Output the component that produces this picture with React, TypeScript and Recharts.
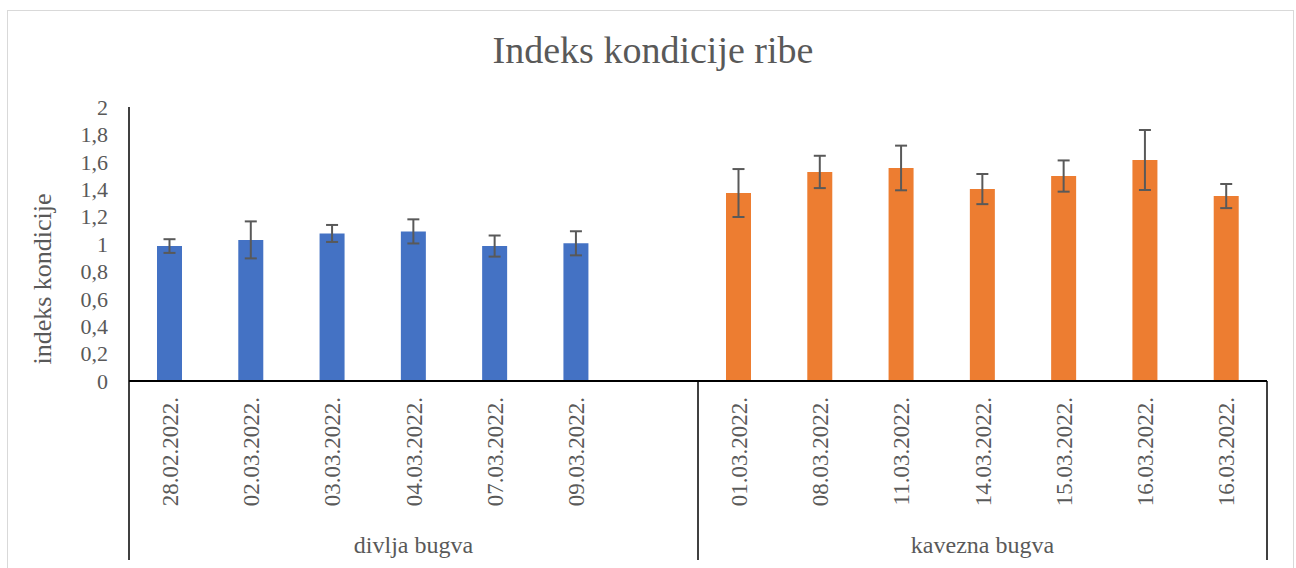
import { BarChart, Bar, XAxis, YAxis, ErrorBar, Cell } from 'recharts';

// divlja bugva (wild)
const wildDates = ['28.02.2022.', '02.03.2022.', '03.03.2022.', '04.03.2022.', '07.03.2022.', '09.03.2022.'];
const wildValues = [0.985, 1.03, 1.077, 1.092, 0.985, 1.005];
const wildErrors = [0.05, 0.135, 0.062, 0.088, 0.077, 0.088];

// kavezna bugva (cage)
const cageDates = ['01.03.2022.', '08.03.2022.', '11.03.2022.', '14.03.2022.', '15.03.2022.', '16.03.2022.', '16.03.2022.'];
const cageValues = [1.372, 1.526, 1.555, 1.401, 1.496, 1.613, 1.35];
const cageErrors = [0.175, 0.118, 0.163, 0.11, 0.114, 0.219, 0.088];

const groupNames = ['divlja bugva', 'kavezna bugva'];
const groupColors = ['#4472C4', '#ED7D31'];
const yTicks = [0, 0.2, 0.4, 0.6, 0.8, 1, 1.2, 1.4, 1.6, 1.8, 2];

const W = 1296;
const H = 568;
const MARGIN = { top: 107, right: 29, bottom: 0, left: 0 };
const Y_AXIS_W = 129;
const X_AXIS_H = 187;
const PLOT_W = W - MARGIN.left - MARGIN.right - Y_AXIS_W;
const TEXT = '#595959';
const FONT = 'Liberation Serif';

interface Row {
  key: string;
  date: string;
  value: number | null;
  err: number | null;
  group: number;
  groupEnd?: boolean;
}

// one empty slot closes the first group, as in the original
const rows: Row[] = [
  ...wildDates.map((d, i) => ({ key: `w${i}`, date: d, value: wildValues[i], err: wildErrors[i], group: 0 })),
  { key: 'gap', date: '', value: null, err: null, group: 0, groupEnd: true },
  ...cageDates.map((d, i) => ({
    key: `c${i}`,
    date: d,
    value: cageValues[i],
    err: cageErrors[i],
    group: 1,
    groupEnd: i === cageDates.length - 1,
  })),
];

// slot sitting in the middle of each group
const groupMid = groupNames.map((_, g) => {
  const idx = rows.map((r, i) => (r.group === g ? i : -1)).filter((i) => i >= 0);
  return (idx[0] + idx[idx.length - 1]) / 2;
});

function DateTick(props: any) {
  const { x, y, index } = props;
  const row = rows[index];
  if (!row) return null;
  const bw = PLOT_W / rows.length;
  const g = groupMid.findIndex((m) => Math.floor(m) === index);
  const gx = g >= 0 ? x + (groupMid[g] - index) * bw : 0;
  return (
    <g>
      {row.date && (
        <text
          transform={`translate(${x + 8},${y + 16}) rotate(-90)`}
          textAnchor="end"
          fontSize={23}
          fill={TEXT}
          style={{ fontFamily: FONT }}
        >
          {row.date}
        </text>
      )}
      {index === 0 && <line x1={x - bw / 2} x2={x - bw / 2} y1={y} y2={y + 179} stroke="#000" strokeWidth={1.5} />}
      {row.groupEnd && <line x1={x + bw / 2} x2={x + bw / 2} y1={y} y2={y + 179} stroke="#000" strokeWidth={1.5} />}
      {g >= 0 && (
        <text x={gx} y={y + 172} textAnchor="middle" fontSize={24} fill={TEXT} style={{ fontFamily: FONT }}>
          {groupNames[g]}
        </text>
      )}
    </g>
  );
}

function YLabel(props: any) {
  const vb = props.viewBox || { x: 0, y: MARGIN.top, width: Y_AXIS_W, height: 274 };
  const cx = vb.x + 51;
  const cy = vb.y + vb.height / 2 + 35;
  return (
    <text
      transform={`translate(${cx},${cy}) rotate(-90)`}
      textAnchor="middle"
      fontSize={26}
      fill={TEXT}
      style={{ fontFamily: FONT }}
    >
      indeks kondicije
    </text>
  );
}

export default function App() {
  return (
    <div style={{ position: 'absolute', left: 0, top: 0, width: W, height: H, overflow: 'hidden', background: '#fff' }}>
      <div
        style={{
          position: 'absolute',
          left: 7,
          top: 10,
          width: 1287,
          height: 600,
          border: '1px solid #d9d9d9',
          boxSizing: 'border-box',
        }}
      />
      <div
        style={{
          position: 'absolute',
          left: 10,
          top: 31,
          width: 1286,
          textAlign: 'center',
          fontFamily: FONT,
          fontSize: 38,
          lineHeight: 1,
          color: TEXT,
        }}
      >
        Indeks kondicije ribe
      </div>
      <div style={{ position: 'absolute', left: 0, top: 0 }}>
        <BarChart width={W} height={H} data={rows} margin={MARGIN}>
          <XAxis
            dataKey="key"
            interval={0}
            height={X_AXIS_H}
            tickLine={false}
            tickSize={0}
            tickMargin={0}
            tick={<DateTick />}
            axisLine={{ stroke: '#000', strokeWidth: 2 }}
          />
          <YAxis
            width={Y_AXIS_W}
            domain={[0, 2]}
            ticks={yTicks}
            interval={0}
            tickLine={false}
            tickMargin={15}
            tickFormatter={(v: number) => String(v).replace('.', ',')}
            tick={{ fontSize: 22, fill: TEXT, fontFamily: FONT }}
            axisLine={{ stroke: '#000', strokeWidth: 1.5 }}
            label={<YLabel />}
          />
          <Bar dataKey="value" barSize={25} isAnimationActive={false}>
            {rows.map((r) => (
              <Cell key={r.key} fill={groupColors[r.group]} />
            ))}
            <ErrorBar dataKey="err" width={6} strokeWidth={2} stroke="#595959" />
          </Bar>
        </BarChart>
      </div>
    </div>
  );
}
